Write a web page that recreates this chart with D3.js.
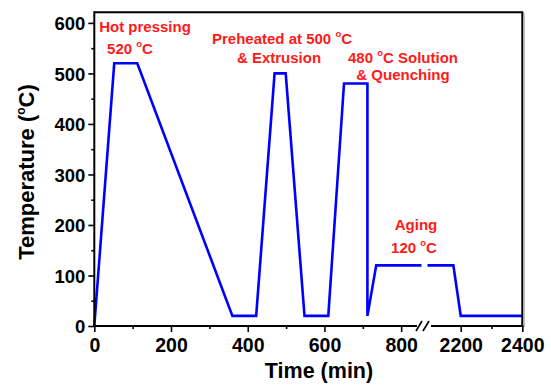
<!DOCTYPE html>
<html><head><meta charset="utf-8">
<script src="https://cdn.jsdelivr.net/npm/d3@7"></script>
<style>body{margin:0;background:#fff}svg{display:block}text{font-family:"Liberation Sans",Arial,sans-serif;font-weight:bold}</style>
</head><body><svg id="c" width="551" height="385"></svg>
<script>
// data
const leftSegment = [[0,0],[52,520],[112,520],[360,20],[422,20],[470,500],[499,500],[548,20],[610,20],[651,480],[712,480],[712,20],[735,120],[853,120]];
const rightSegment = [[2092,120],[2176,120],[2200,20],[2400,20]];
const xTicksLeft = [0,200,400,600,800];
const xMinorLeft = [100,300,500,700];
const xTicksRight = [2200,2400];
const xMinorRight = [2300];
const yTicks = [0,100,200,300,400,500,600];
const yMinor = [50,150,250,350,450,550];
const labels = [
  {x:145, y:31.5, parts:[["Hot pressing",0]]},
  {x:130, y:54, parts:[["520 ",0],["o",1],["C",0]]},
  {x:282, y:44, parts:[["Preheated at 500 ",0],["o",1],["C",0]]},
  {x:279, y:63, parts:[["& Extrusion",0]]},
  {x:403, y:62.5, parts:[["480 ",0],["o",1],["C Solution",0]]},
  {x:403, y:80, parts:[["& Quenching",0]]},
  {x:416, y:229.5, parts:[["Aging",0]]},
  {x:414, y:253, parts:[["120 ",0],["o",1],["C",0]]}
];

const svg = d3.select("#c");
const L=94.3, R=522.3, T=12.3, B=326, gapL=421.5, gapR=427.5;
const y = d3.scaleLinear().domain([0,621]).range([B,T]);
const xl = d3.scaleLinear().domain([0,853]).range([L,gapL]);
const xr = d3.scaleLinear().domain([2092,2400]).range([gapR,R]);

const line1 = d3.line().x(d=>xl(d[0])).y(d=>y(d[1]));
const line2 = d3.line().x(d=>xr(d[0])).y(d=>y(d[1]));
svg.append("path").attr("d",line1(leftSegment)).attr("fill","none").attr("stroke","#0000ff").attr("stroke-width",2.6).attr("stroke-linejoin","miter");
svg.append("path").attr("d",line2(rightSegment)).attr("fill","none").attr("stroke","#0000ff").attr("stroke-width",2.6);

// frame
const k="#000";
svg.append("line").attr("x1",L).attr("x2",R+1).attr("y1",T).attr("y2",T).attr("stroke",k).attr("stroke-width",2);
svg.append("line").attr("x1",R).attr("x2",R).attr("y1",T).attr("y2",B+1).attr("stroke",k).attr("stroke-width",2);
svg.append("line").attr("x1",R+1.8).attr("x2",R+1.8).attr("y1",T+1).attr("y2",B+1).attr("stroke","#999").attr("stroke-width",1);
svg.append("line").attr("x1",L).attr("x2",L).attr("y1",T-1).attr("y2",B+1).attr("stroke",k).attr("stroke-width",2);
svg.append("line").attr("x1",L-1).attr("x2",417).attr("y1",B).attr("y2",B).attr("stroke",k).attr("stroke-width",2);
svg.append("line").attr("x1",431).attr("x2",R+1).attr("y1",B).attr("y2",B).attr("stroke",k).attr("stroke-width",2);
// break marks
[[416,422],[423,429]].forEach(([a,b])=>{
  svg.append("line").attr("x1",a).attr("y1",B+5).attr("x2",b).attr("y2",B-5).attr("stroke",k).attr("stroke-width",1.6);
});

// y axis ticks
const gy = svg.append("g").attr("transform",`translate(${L},0)`)
  .call(d3.axisLeft(y).tickValues(yTicks).tickSize(6).tickPadding(3).tickFormat(d3.format("d")));
gy.select(".domain").remove();
gy.selectAll(".tick line").attr("stroke-width",1.6);
gy.selectAll("text").attr("font-size",18.5).attr("fill","#000").attr("dy","0.36em");
const gym = svg.append("g").attr("transform",`translate(${L},0)`)
  .call(d3.axisLeft(y).tickValues(yMinor).tickSize(3).tickFormat(""));
gym.select(".domain").remove();
gym.selectAll(".tick line").attr("stroke-width",1.6);

function xAxis(scale, major, minor){
  const g = svg.append("g").attr("transform",`translate(0,${B})`)
    .call(d3.axisBottom(scale).tickValues(major).tickSize(6).tickPadding(6).tickFormat(d3.format("d")));
  g.select(".domain").remove();
  g.selectAll(".tick line").attr("stroke-width",1.6);
  g.selectAll("text").attr("font-size",19.5).attr("fill","#000");
  const gm = svg.append("g").attr("transform",`translate(0,${B})`)
    .call(d3.axisBottom(scale).tickValues(minor).tickSize(3).tickFormat(""));
  gm.select(".domain").remove();
  gm.selectAll(".tick line").attr("stroke-width",1.6);
}
xAxis(xl, xTicksLeft, xMinorLeft);
xAxis(xr, xTicksRight, xMinorRight);

// titles
svg.append("text").attr("x",319).attr("y",378).attr("text-anchor","middle").attr("font-size",21.5).text("Time (min)");
const yt = svg.append("text").attr("transform","translate(34,172) rotate(-90)").attr("text-anchor","middle").attr("font-size",22);
yt.append("tspan").text("Temperature (");
yt.append("tspan").attr("font-size",12).attr("dy",-9).text("o");
yt.append("tspan").attr("dy",9).text("C)");

// annotations
labels.forEach(l=>{
  const t = svg.append("text").attr("x",l.x).attr("y",l.y).attr("text-anchor","middle").attr("font-size",15).attr("fill","#ff1a1a");
  let prevSup = false;
  l.parts.forEach(([s,sup])=>{
    if(sup) t.append("tspan").attr("font-size",9.5).attr("dy",-7).text(s);
    else t.append("tspan").attr("dy", prevSup ? 7 : 0).text(s);
    prevSup = !!sup;
  });
});
</script></body></html>
